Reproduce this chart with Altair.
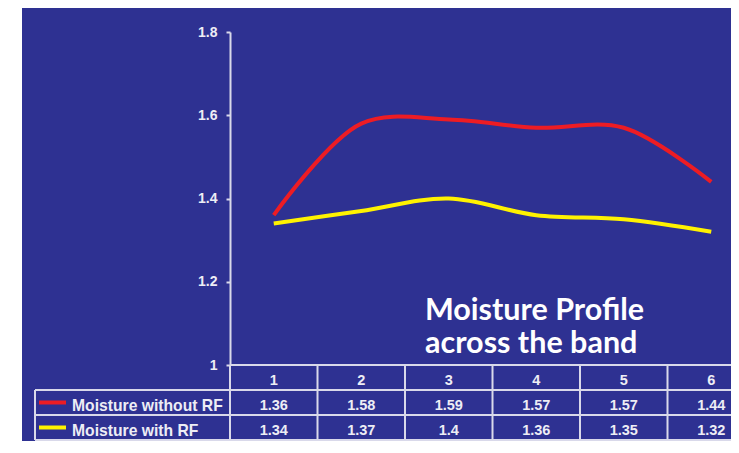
import altair as alt
import pandas as pd

# ---------------- data ----------------
columns = [1, 2, 3, 4, 5, 6]
col_labels = ["1", "2", "3", "4", "5", "6"]
without_rf = [1.36, 1.58, 1.59, 1.57, 1.57, 1.44]
with_rf = [1.34, 1.37, 1.40, 1.36, 1.35, 1.32]
without_rf_text = ["1.36", "1.58", "1.59", "1.57", "1.57", "1.44"]
with_rf_text = ["1.34", "1.37", "1.4", "1.36", "1.35", "1.32"]
series_names = ["Moisture without RF", "Moisture with RF"]
series_colors = ["#ED1C24", "#FFF200"]
y_ticks = [1, 1.2, 1.4, 1.6, 1.8]
title_lines = ["Moisture Profile", "across the band"]

# ---------------- layout / style ----------------
W, H = 501, 333
PAD = {"left": 222, "top": 24, "right": 0, "bottom": 76}
COL_W = 87.5
BG = "#2E3192"
LINE_C = "#D9D9EA"
TEXT_C = "#EDEDF5"
TABLE_TOP, TABLE_BOTTOM = H, H + 75
LABEL_LEFT_PX = -195
label_left = 0.5 + LABEL_LEFT_PX / COL_W

xscale = alt.Scale(domain=[0.5, 6.5], range=[0, 6 * COL_W])
tscale = alt.Scale(domain=[0, 3], range=[TABLE_TOP, TABLE_BOTTOM])

# ---------------- tables ----------------
lines_df = pd.DataFrame({
    "col": columns * 2,
    "value": without_rf + with_rf,
    "series": [series_names[0]] * 6 + [series_names[1]] * 6,
})

cells_df = pd.DataFrame({
    "col": columns * 3,
    "r": [0.5] * 6 + [1.5] * 6 + [2.5] * 6,
    "txt": col_labels + without_rf_text + with_rf_text,
})

vlines_df = pd.DataFrame({
    "col": [c - 0.5 for c in columns] + [6.5, label_left],
    "r0": [0] * 7 + [1],
    "r1": [3] * 8,
})
hlines_df = pd.DataFrame({
    "c0": [0.5, label_left, label_left, label_left],
    "c1": [6.5] * 4,
    "r": [0, 1, 2, 3],
})
legend_df = pd.DataFrame({
    "series": series_names,
    "r": [1.5, 2.5],
})

# ---------------- layers ----------------
strip = alt.Chart(pd.DataFrame({"a": [0]})).mark_rect(color="white").encode(
    x=alt.value(-PAD["left"]), x2=alt.value(-PAD["left"] + 14),
    y=alt.value(-PAD["top"]), y2=alt.value(H + PAD["bottom"]),
)

lines = alt.Chart(lines_df).mark_line(strokeWidth=4, interpolate="catmull-rom").encode(
    x=alt.X("col:Q", scale=xscale, axis=None),
    y=alt.Y(
        "value:Q",
        scale=alt.Scale(domain=[1, 1.8]),
        axis=alt.Axis(
            values=y_ticks, format="~g", title=None, grid=False,
            domainColor=LINE_C, domainWidth=2, tickColor=LINE_C, tickWidth=2,
            tickSize=4, labelPadding=9, labelColor=TEXT_C, labelFontSize=14,
            labelFont="Liberation Sans", labelFontWeight="bold",
        ),
    ),
    color=alt.Color("series:N", scale=alt.Scale(domain=series_names, range=series_colors), legend=None),
)

vlines = alt.Chart(vlines_df).mark_rule(color=LINE_C, strokeWidth=2).encode(
    x=alt.X("col:Q", scale=xscale, axis=None),
    y=alt.Y("r0:Q", scale=tscale, axis=None),
    y2="r1:Q",
)
hlines = alt.Chart(hlines_df).mark_rule(color=LINE_C, strokeWidth=2).encode(
    x=alt.X("c0:Q", scale=xscale, axis=None),
    x2="c1:Q",
    y=alt.Y("r:Q", scale=tscale, axis=None),
)
cells = alt.Chart(cells_df).mark_text(
    color=TEXT_C, font="Liberation Sans", fontWeight="bold", fontSize=14.5, dy=3
).encode(
    x=alt.X("col:Q", scale=xscale, axis=None),
    y=alt.Y("r:Q", scale=tscale, axis=None),
    text="txt:N",
)
swatches = alt.Chart(legend_df).mark_rule(strokeWidth=4).encode(
    x=alt.value(LABEL_LEFT_PX + 4), x2=alt.value(LABEL_LEFT_PX + 31),
    y=alt.Y("r:Q", scale=tscale, axis=None),
    color=alt.Color("series:N", scale=alt.Scale(domain=series_names, range=series_colors), legend=None),
)
labels = alt.Chart(legend_df).mark_text(
    color=TEXT_C, font="Liberation Sans", fontWeight="bold", fontSize=15.7, dy=3, align="left"
).encode(
    x=alt.value(LABEL_LEFT_PX + 37),
    y=alt.Y("r:Q", scale=tscale, axis=None),
    text="series:N",
)
table = alt.layer(vlines, hlines, cells, swatches, labels)

title = alt.Chart(pd.DataFrame({"a": [0]})).mark_text(
    align="left", baseline="alphabetic", font="Lato", fontWeight="bold",
    fontSize=30.5, color="white", lineHeight=33,
).encode(x=alt.value(195), y=alt.value(288), text=alt.value(title_lines))

chart = alt.layer(strip, lines, table, title).resolve_scale(y="independent").properties(
    width=W, height=H,
    autosize=alt.AutoSizeParams(type="none"),
    padding=PAD,
    background=BG,
).configure_view(stroke=None)

chart.save("out.html", embed_options={"renderer": "svg", "actions": False})
